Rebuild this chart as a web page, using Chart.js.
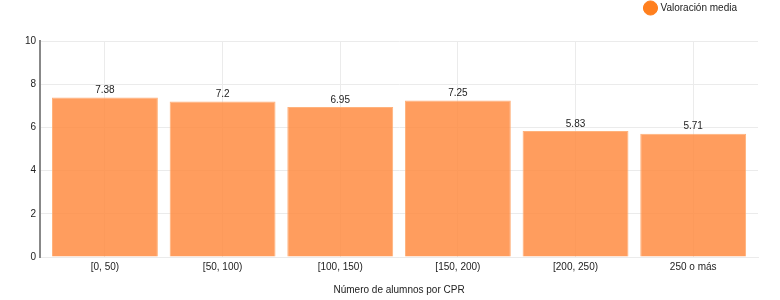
<!DOCTYPE html>
<html>
<head>
<meta charset="utf-8">
<script src="https://cdn.jsdelivr.net/npm/chart.js@4"></script>
<style>
  html, body { margin: 0; padding: 0; background: #fff; }
  #wrap { width: 780px; height: 300px; }
</style>
</head>
<body>
<div id="wrap"><canvas id="chart"></canvas></div>
<script>
// Data
const categories = ['[0, 50)', '[50, 100)', '[100, 150)', '[150, 200)', '[200, 250)', '250 o más'];
const valoracion = [7.38, 7.2, 6.95, 7.25, 5.83, 5.71];
const seriesLabel = 'Valoración media';
const xTitle = 'Número de alumnos por CPR';

const BAR_FILL = 'rgba(255, 140, 66, 0.85)';
const LEGEND_DOT = '#ff7f1e';

// Draw the value above each bar
const valueLabels = {
  id: 'valueLabels',
  afterDatasetsDraw(chart) {
    const ctx = chart.ctx;
    const meta = chart.getDatasetMeta(0);
    ctx.save();
    ctx.font = '10px "Liberation Sans", Arial, sans-serif';
    ctx.fillStyle = '#222';
    ctx.textAlign = 'center';
    ctx.textBaseline = 'bottom';
    meta.data.forEach((bar, i) => {
      ctx.fillText(String(chart.data.datasets[0].data[i]), bar.x, bar.y - 2);
    });
    ctx.restore();
  }
};

// Extra space below the legend, and pull it a bit in from the right edge
const legendGap = {
  id: 'legendGap',
  beforeInit(chart) {
    const origFit = chart.legend.fit;
    chart.legend.fit = function () {
      origFit.bind(chart.legend)();
      this.height += 18;
    };
  },
  afterLayout(chart) {
    chart.legend.right -= 18;
  }
};

Chart.defaults.font.family = '"Liberation Sans", Arial, sans-serif';
Chart.defaults.font.size = 10;
Chart.defaults.color = '#222';

new Chart(document.getElementById('chart'), {
  type: 'bar',
  data: {
    labels: categories,
    datasets: [{
      label: seriesLabel,
      data: valoracion,
      backgroundColor: BAR_FILL,
      borderColor: 'rgba(255, 170, 110, 0.9)',
      borderWidth: 1,
      categoryPercentage: 1,
      barPercentage: 0.9
    }]
  },
  options: {
    responsive: true,
    maintainAspectRatio: false,
    animation: false,
    layout: { padding: { left: 21, right: 22, top: 0, bottom: 0 } },
    plugins: {
      legend: {
        position: 'top',
        align: 'end',
        labels: {
          usePointStyle: true,
          pointStyle: 'circle',
          boxWidth: 10,
          boxHeight: 10,
          padding: 3,
          generateLabels(chart) {
            const items = Chart.defaults.plugins.legend.labels.generateLabels(chart);
            items.forEach(it => { it.fillStyle = LEGEND_DOT; it.strokeStyle = LEGEND_DOT; });
            return items;
          }
        }
      },
      tooltip: { enabled: false }
    },
    scales: {
      x: {
        grid: { offset: false, color: '#ebebeb', drawTicks: false },
        border: { color: '#ebebeb' },
        ticks: { padding: 4 },
        title: { display: true, text: xTitle, padding: { top: 7, bottom: 4 } },
        // a little extra room at both ends of the category axis
        afterBuildTicks(scale) {
          scale._startValue -= 0.051;
          scale._valueRange += 0.102;
        }
      },
      y: {
        min: 0,
        max: 10,
        ticks: { stepSize: 2, padding: 4 },
        grid: { color: '#ebebeb', drawTicks: false },
        border: { color: '#888', width: 2 }
      }
    }
  },
  plugins: [valueLabels, legendGap]
});
</script>
</body>
</html>
